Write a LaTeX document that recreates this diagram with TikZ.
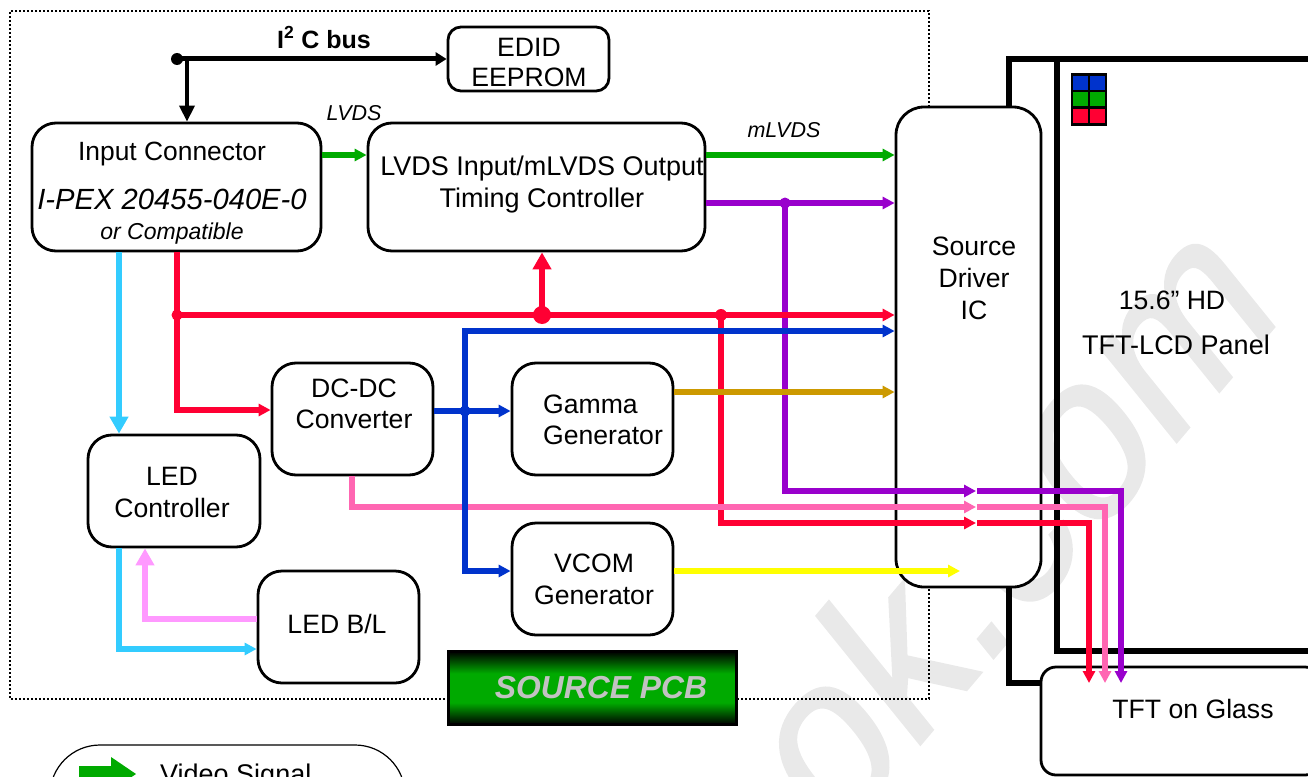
\documentclass[tikz,border=0pt]{standalone}
\usepackage{fontspec}
\setmainfont{Liberation Sans}
\newfontfamily\wmfont[FakeBold=1.2]{Liberation Sans}
\usetikzlibrary{arrows.meta,calc}
\definecolor{cred}{HTML}{FF0033}
\definecolor{cgreen}{HTML}{00AA00}
\definecolor{cblue}{HTML}{0033CC}
\definecolor{cpurple}{HTML}{9900CC}
\definecolor{cpink}{HTML}{FF66B2}
\definecolor{ccyan}{HTML}{33CCFF}
\definecolor{clpink}{HTML}{FF99FF}
\definecolor{cgold}{HTML}{CC9900}
\definecolor{cyellow}{HTML}{FFFF00}
\definecolor{wm}{HTML}{E9E9E9}
\pgfdeclareverticalshading{pcbshade}{100bp}{color(0bp)=(black); color(25bp)=(black); color(40bp)=(cgreen); color(60bp)=(cgreen); color(75bp)=(black); color(100bp)=(black)}
\newcommand{\fs}[1]{\fontsize{#1}{#1}\selectfont}
\tikzset{
  x=1pt,y=-1pt,
  box/.style={draw=black,fill=white,line width=2.8pt,rounded corners=#1,inner sep=0pt},
  box/.default=24pt,
  lbl/.style={inner sep=0pt,align=center,font=\fs{26.6}},
  wire/.style={line width=5.4pt,-{Triangle[length=12pt,width=12pt]}},
  plain/.style={line width=5.4pt},
  bigtip/.style={-{Triangle[length=17pt,width=18pt]}},
  frameline/.style={line width=6pt,draw=black},
  pcbdot/.style={draw=black,line width=2pt,dash pattern=on 2pt off 2pt},
  dot/.style={circle,fill=#1,inner sep=0pt,minimum size=11pt},
  cell/.style={draw=black,line width=2.5pt,minimum width=17pt,minimum height=16.6pt,inner sep=0pt,fill=#1},
}
\begin{document}
\begin{tikzpicture}
\useasboundingbox (0,0) rectangle (1308,776);
\clip (0,0) rectangle (1308,776);
% watermark
\begin{scope}[shift={(1004,645.5)},cm={1.396,1.647,-1.43,1.77,(0,0)}]
\node[transform shape,anchor=base,inner sep=0pt,text=wm,font=\wmfont\fs{100}] (wmark) at (0,0) {look.com};
\end{scope}
% source pcb outline
\draw[pcbdot] (929,107) -- (929,11) -- (10,11) -- (10,699) -- (448,699);
\draw[pcbdot] (737,699) -- (929,699) -- (929,587);
% panel frame
\draw[frameline] (1009,107) -- (1009,59) -- (1308,59);
\draw[frameline] (1009,587) -- (1009,683) -- (1041,683);
\draw[frameline] (1308,651) -- (1057,651) -- (1057,59);
% subpixels
\node[cell=cblue] (p1) at (1080.5,83) {};
\node[cell=cblue] (p2) at (1097.5,83) {};
\node[cell=cgreen] (p3) at (1080.5,99.5) {};
\node[cell=cgreen] (p4) at (1097.5,99.5) {};
\node[cell=cred] (p5) at (1080.5,116) {};
\node[cell=cred] (p6) at (1097.5,116) {};
% boxes
\node[box=13pt,minimum width=161pt,minimum height=64pt] (edid) at (528.5,59) {};
\node[box,minimum width=289pt,minimum height=128pt] (inp) at (176.5,187) {};
\node[box,minimum width=337pt,minimum height=128pt] (tcon) at (536.5,187) {};
\node[box=28pt,minimum width=145pt,minimum height=480pt] (src) at (968.5,347) {};
\node[box,minimum width=161pt,minimum height=112pt] (dcdc) at (352.5,419) {};
\node[box,minimum width=161pt,minimum height=112pt] (gamma) at (592.5,419) {};
\node[box,minimum width=172pt,minimum height=112pt] (ledc) at (174,491) {};
\node[box,minimum width=161pt,minimum height=112pt] (ledbl) at (338.5,627) {};
\node[box,minimum width=161pt,minimum height=112pt] (vcom) at (592.5,579) {};
\node[box=15pt,minimum width=279pt,minimum height=108pt] (tog) at (1180.5,721) {};
\node[box=50pt,line width=1.2pt,minimum width=355pt,minimum height=130pt] (legend) at (227.5,810) {};
\node[draw=black,line width=3pt,minimum width=288pt,minimum height=73pt,inner sep=0pt,
      shading=pcbshade] (pcb) at (592.5,688) {};
% texts
\node[lbl] (tedid) at (529,62.5) {EDID\\[4pt]EEPROM};
\node[lbl,font=\fs{26.4}] (t1) at (172,154) {Input Connector};
\node[lbl,font=\itshape\fs{29.2}] (t2) at (172,199) {I-PEX 20455-040E-0};
\node[lbl,font=\itshape\fs{23}] (t3) at (172,234) {or Compatible};
\node[lbl,font=\fs{27}] (ttcon) at (542,184.5) {LVDS Input/mLVDS Output\\[5.5pt]Timing Controller};
\node[lbl] (tsrc) at (974,278.5) {Source\\[5.5pt]Driver\\[5.5pt]IC};
\node[lbl] (tdcdc) at (354,404) {DC-DC\\[5pt]Converter};
\node[lbl,align=left] (tgamma) at (603,420) {Gamma\\[5pt]Generator};
\node[lbl] (tledc) at (172,492.5) {LED\\[5.5pt]Controller};
\node[lbl] (tledbl) at (337,624) {LED B/L};
\node[lbl] (tvcom) at (594,579.5) {VCOM\\[5.5pt]Generator};
\node[lbl] (tpanel1) at (1172,300) {15.6” HD};
\node[lbl,font=\fs{27}] (tpanel2) at (1176,345) {TFT-LCD Panel};
\node[lbl] (ttog) at (1193,709) {TFT on Glass};
\node[lbl,font=\bfseries\itshape\fs{31.8},text=black!24] (tpcb) at (601,688) {SOURCE PCB};
\node[lbl,font=\bfseries\fs{25}] (ti2c) at (324,37.5) {I\textsuperscript{2} C bus};
\node[lbl,font=\itshape\fs{21.5}] (tlvds) at (354,113) {LVDS};
\node[lbl,font=\itshape\fs{21.5}] (tmlvds) at (784,130) {mLVDS};
\node[lbl,anchor=west,font=\fs{27}] (tleg) at (160,777) {Video Signal};
% legend arrow
\fill[cgreen] (79,766) -- (111,766) -- (111,757) -- (136,774) -- (111,791) -- (111,782) -- (79,782) -- cycle;
% junctions
\node[dot=black,minimum size=12pt] (j0) at (177,59) {};
\node[dot=cred] (j1) at (177,315) {};
\node[dot=cred,minimum size=18pt] (j2) at (542,315) {};
\node[dot=cred,minimum size=12pt] (j3) at (721,315) {};
\node[dot=cblue] (j4) at (465,411) {};
\node[dot=cpurple] (j5) at (785,203) {};
\coordinate (ret1) at (976,491);
\coordinate (ret2) at (976,507);
\coordinate (ret3) at (976,523);
\coordinate (s1) at (977,491);
\coordinate (s2) at (977,507);
\coordinate (s3) at (977,523);
\coordinate (e1) at (1121,683);
\coordinate (e2) at (1105,683);
\coordinate (e3) at (1089,683);
\coordinate (vend) at (960,571);
% I2C
\draw[line width=5pt,-{Triangle[length=11pt,width=13pt]}] (j0.center) -- (edid.west);
\draw[line width=3.6pt,-{Triangle[length=16pt,width=15pt]}] (187,59) -- (inp.north -| 187,0);
% green
\draw[wire,cgreen] (inp.east |- 0,155) -- (tcon.west |- 0,155);
\draw[wire,cgreen] (tcon.east |- 0,155) -- (src.west |- 0,155);
% purple
\draw[wire,cpurple] (tcon.east |- 0,203) -- (src.west |- 0,203);
\draw[wire,cpurple] (j5.center) |- (ret1);
\draw[wire,cpurple] (s1) -| (e1);
% red
\draw[plain,cred] (inp.south -| 177,0) -- (j1.center);
\draw[wire,cred] (j1.center) |- (dcdc.west |- 0,410);
\draw[wire,cred] (j1.center) -- (src.west |- 0,315);
\draw[plain,cred,bigtip] (j2.center) -- (tcon.south -| 542,0);
\draw[wire,cred] (j3.center) |- (ret3);
\draw[wire,cred] (s3) -| (e3);
% pink
\draw[wire,cpink] (dcdc.south -| 352,0) |- (ret2);
\draw[wire,cpink] (s2) -| (e2);
% blue
\draw[wire,cblue] (dcdc.east |- 0,411) -- (gamma.west |- 0,411);
\draw[wire,cblue] (j4.center) |- (src.west |- 0,331);
\draw[wire,cblue] (j4.center) |- (vcom.west |- 0,571);
% gold, yellow
\draw[wire,cgold] (gamma.east |- 0,392) -- (src.west |- 0,392);
\draw[wire,cyellow] (vcom.east |- 0,571) -- (vend);
% cyan
\draw[wire,ccyan,-{Triangle[length=17pt,width=18pt]}] (inp.south -| 119,0) -- (ledc.north -| 119,0);
\draw[wire,ccyan] (ledc.south -| 119,0) |- (ledbl.west |- 0,649);
% light pink
\draw[wire,clpink,-{Triangle[length=17pt,width=18pt]}] (ledbl.west |- 0,619) -| (ledc.south -| 145,0);
\end{tikzpicture}
\end{document}
